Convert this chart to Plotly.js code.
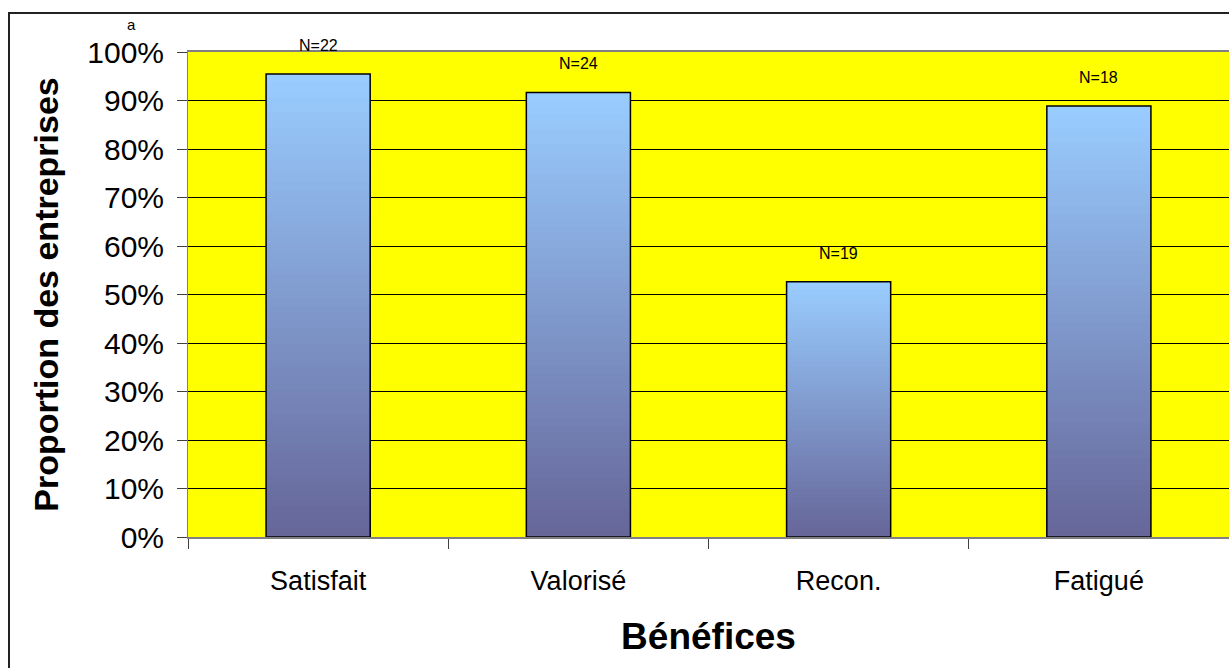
<!DOCTYPE html>
<html>
<head>
<meta charset="utf-8">
<script src="https://cdn.plot.ly/plotly-3.0.1.min.js"></script>
<style>
  html, body { margin: 0; padding: 0; background: #ffffff; }
  #chart { width: 1229px; height: 668px; }
</style>
</head>
<body>
<div id="chart"></div>
<script>
// ---- data ----
var categories = ["Satisfait", "Valorisé", "Recon.", "Fatigué"];
var proportions = [0.9545, 0.9167, 0.5263, 0.8889];
var sampleLabels = ["N=22", "N=24", "N=19", "N=18"];
var yTitle = "Proportion des entreprises";
var xTitle = "Bénéfices";
var cornerNote = "a";

// ---- styling helpers ----
var bottomColor = [102, 102, 153];
var topColor = [153, 204, 255];
var SLICES = 60;

function mix(t) {
  var c = bottomColor.map(function (b, i) { return Math.round(b + (topColor[i] - b) * t); });
  return "rgb(" + c.join(",") + ")";
}

var traces = [];
// gradient: draw tallest (lightest) first, shorter darker ones on top
for (var k = SLICES - 1; k >= 0; k--) {
  var frac = (k + 1) / SLICES;
  traces.push({
    type: "bar",
    x: categories,
    y: proportions.map(function (v) { return v * frac; }),
    marker: { color: mix(k / (SLICES - 1)), line: { width: 0 } },
    hoverinfo: "skip",
    showlegend: false
  });
}
// outline
traces.push({
  type: "bar",
  x: categories,
  y: proportions,
  marker: { color: "rgba(0,0,0,0)", line: { color: "#000000", width: 1.5 } },
  hoverinfo: "skip",
  showlegend: false
});

var annotations = categories.map(function (c, i) {
  return {
    x: c, y: proportions[i], xref: "x", yref: "y",
    text: sampleLabels[i], showarrow: false,
    yanchor: "bottom", yshift: 18,
    font: { family: "Liberation Sans, Arial, sans-serif", size: 16, color: "#000" }
  };
});
annotations.push({
  x: -0.0538, y: 1.0557, xref: "paper", yref: "paper",
  text: cornerNote, showarrow: false, xanchor: "center", yanchor: "middle",
  font: { family: "Liberation Sans, Arial, sans-serif", size: 15, color: "#000" }
});

var layout = {
  width: 1229, height: 668,
  margin: { l: 188, r: 0, t: 52, b: 131, autoexpand: false },
  paper_bgcolor: "#ffffff",
  plot_bgcolor: "#ffff00",
  barmode: "overlay",
  bargap: 0.6,
  showlegend: false,
  font: { family: "Liberation Sans, Arial, sans-serif", color: "#000" },
  xaxis: {
    type: "category",
    tickson: "boundaries",
    ticks: "outside", ticklen: 10, tickcolor: "#404040", tickwidth: 1,
    showline: true, linecolor: "#808080", linewidth: 2, mirror: true,
    showgrid: false, zeroline: false,
    tickfont: { family: "Liberation Sans, Arial, sans-serif", size: 27, color: "#000" },
    ticklabelstandoff: 19,
    automargin: false,
    title: { text: xTitle, standoff: 28, font: { family: "Liberation Sans, Arial, sans-serif", size: 37, weight: "bold", color: "#000" } }
  },
  yaxis: {
    range: [0, 1],
    dtick: 0.1, tick0: 0,
    tickformat: ".0%",
    ticks: "outside", ticklen: 10, tickcolor: "#404040", tickwidth: 1,
    showline: true, linecolor: "#808080", linewidth: 1, mirror: true,
    showgrid: true, gridcolor: "#000000", gridwidth: 1,
    zeroline: false,
    tickfont: { family: "Liberation Sans, Arial, sans-serif", size: 30, color: "#000" },
    ticklabelstandoff: 7,
    automargin: false,
    title: { text: yTitle, standoff: 18, font: { family: "Liberation Sans, Arial, sans-serif", size: 34, weight: "bold", color: "#000" } }
  },
  shapes: [{
    type: "rect", xref: "paper", yref: "paper",
    x0: -0.17195, x1: 1.05, y0: -0.35, y1: 1.0804,
    line: { color: "#222222", width: 2 }, fillcolor: "rgba(0,0,0,0)", layer: "above"
  }],
  annotations: annotations
};

Plotly.newPlot("chart", traces, layout, { staticPlot: true, displayModeBar: false });
</script>
</body>
</html>
